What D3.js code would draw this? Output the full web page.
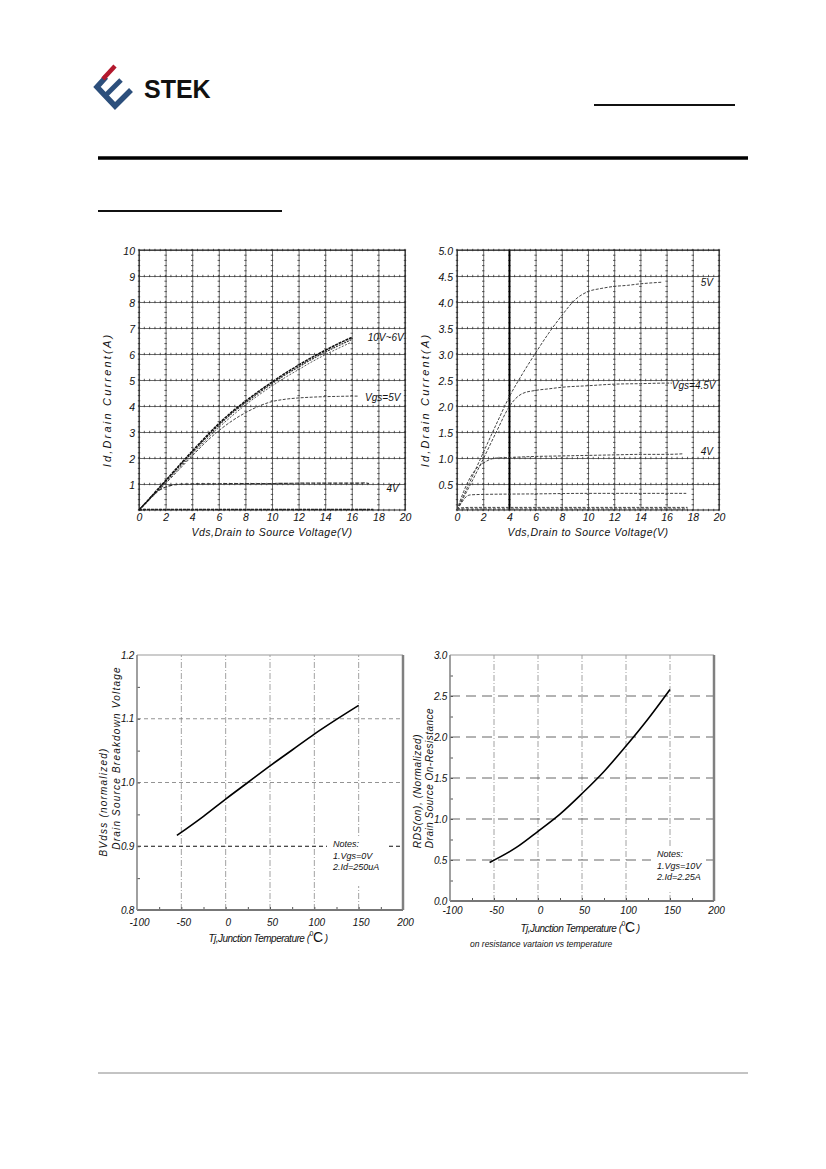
<!DOCTYPE html>
<html lang="en">
<head>
  <meta charset="UTF-8">
  <title>STEK - typical characteristics</title>
  <script src="https://cdn.jsdelivr.net/npm/d3@7"></script>
  <style>
    body { margin: 0; background: #fff; }
    svg { display: block; }
    text { font-family: Arial, "Liberation Sans", sans-serif; }
  </style>
</head>
<body>
<svg id="page" width="826" height="1169"></svg>
<script>
  // ---- output characteristics, Vgs as parameter  [Vds (V), Id (A)]
  var vgs10V = [[0,0],[0.5,0.27],[1,0.56],[2,1.13],[3,1.7],[4,2.26],[5,2.8],[6,3.32],[7,3.78],[8,4.18],[9,4.56],[10,4.92],[11,5.26],[12,5.57],[13,5.87],[14,6.14],[15,6.4],[16,6.64]];
  var vgs8V  = [[0,0],[1,0.54],[2,1.1],[3,1.66],[4,2.21],[5,2.75],[6,3.26],[7,3.72],[8,4.12],[9,4.5],[10,4.86],[11,5.2],[12,5.5],[13,5.8],[14,6.07],[15,6.32],[16,6.56]];
  var vgs6V  = [[0,0],[1,0.52],[2,1.06],[3,1.6],[4,2.14],[5,2.67],[6,3.17],[7,3.62],[8,4.04],[9,4.42],[10,4.77],[11,5.1],[12,5.4],[13,5.7],[14,5.97],[15,6.22],[16,6.46]];
  var vgs5V  = [[0,0],[1,0.5],[2,1.02],[3,1.55],[4,2.08],[5,2.6],[6,3.05],[7,3.43],[8,3.74],[9,3.99],[10,4.17],[11,4.26],[12,4.31],[13,4.34],[14,4.36],[15,4.37],[16,4.38],[16.5,4.38]];
  var vgs4V  = [[0,0],[0.5,0.28],[1,0.55],[1.5,0.76],[2,0.88],[2.5,0.96],[3,0.99],[4,1.0],[6,1.01],[8,1.02],[10,1.02],[12,1.03],[14,1.03],[16,1.03],[17,1.04],[17.3,1.02]];
  var vgs3V  = [[0,0],[0.5,0.02],[17.6,0.02]];

  // ---- second output chart
  var r5V   = [[0,0],[1,0.55],[2,1.1],[3,1.65],[4,2.18],[5,2.62],[6,3.02],[7,3.4],[8,3.74],[9,4.04],[10,4.2],[11,4.26],[12,4.3],[13,4.32],[14,4.35],[15,4.37],[15.6,4.38]];
  var r45V  = [[0,0],[1,0.48],[2,0.98],[3,1.5],[4,1.99],[4.5,2.15],[5,2.24],[6,2.3],[7,2.33],[8,2.36],[10,2.39],[12,2.42],[14,2.43],[16,2.44],[16.4,2.44]];
  var r4V   = [[0,0],[0.5,0.35],[1,0.62],[1.5,0.8],[2,0.9],[2.5,0.97],[3,1.0],[4,1.01],[6,1.03],[8,1.04],[10,1.05],[12,1.06],[14,1.07],[16,1.07],[17.2,1.08]];
  var r35V  = [[0,0],[0.3,0.12],[0.6,0.23],[1,0.29],[2,0.3],[6,0.31],[10,0.32],[14,0.32],[17.5,0.32]];
  var r3V   = [[0,0],[0.3,0.04],[1,0.05],[17.6,0.05]];
  var r25V  = [[0,0.02],[17.6,0.02]];

  // ---- temperature dependence
  var tjC     = [-55, -25, 0, 25, 50, 75, 100, 125, 150];
  var bvdssN  = [0.917, 0.947, 0.974, 1.0, 1.026, 1.051, 1.076, 1.099, 1.121];
  var rdsonN  = [0.47, 0.65, 0.85, 1.06, 1.31, 1.58, 1.89, 2.22, 2.58];

  var vdsTicks  = d3.range(0, 21, 2);
  var tempTicks = [-100, -50, 0, 50, 100, 150, 200];

  var svg = d3.select('#page');
  svg.append('rect').attr('width', 826).attr('height', 1169).attr('fill', '#fff');

  // ---------- header
  var logo = svg.append('g').attr('fill', 'none').attr('stroke-linejoin', 'miter');
  logo.append('path').attr('d', 'M106,77 L97,87 L115,106 L131,90').attr('stroke', '#2c4f7c').attr('stroke-width', 5.5);
  logo.append('path').attr('d', 'M105,96 L121,80').attr('stroke', '#2c4f7c').attr('stroke-width', 5);
  logo.append('path').attr('d', 'M103,79 L115,66').attr('stroke', '#b3182d').attr('stroke-width', 4.5);
  svg.append('text').attr('x', 144).attr('y', 98).attr('font-size', 25).attr('font-weight', 'bold')
    .attr('fill', '#111').text('STEK');
  svg.append('line').attr('x1', 594).attr('x2', 735).attr('y1', 105).attr('y2', 105).attr('stroke', '#111').attr('stroke-width', 2);
  svg.append('line').attr('x1', 98).attr('x2', 748).attr('y1', 158).attr('y2', 158).attr('stroke', '#000').attr('stroke-width', 3.5);
  svg.append('line').attr('x1', 98).attr('x2', 282).attr('y1', 211).attr('y2', 211).attr('stroke', '#111').attr('stroke-width', 2);
  svg.append('line').attr('x1', 98).attr('x2', 748).attr('y1', 1073).attr('y2', 1073).attr('stroke', '#888').attr('stroke-width', 1);

  function styleLabels(g, size) {
    g.select('.domain').remove();
    g.selectAll('.tick line').remove();
    g.attr('font-family', null).attr('font-size', null);
    g.selectAll('text').attr('font-style', 'italic').attr('font-size', size || 10).attr('fill', '#111');
  }

  // ---------- output characteristic charts
  function outputChart(box, yMax, yStep, yFmt, curves, notes, thickAt) {
    var x = d3.scaleLinear().domain([0, 20]).range([box.x, box.x + box.w]);
    var y = d3.scaleLinear().domain([0, yMax]).range([box.y + box.h, box.y]);
    var yTicks = d3.range(yStep, yMax + 1e-9, yStep);
    var g = svg.append('g');

    g.append('g').attr('transform', 'translate(0,' + (box.y + box.h) + ')')
      .call(d3.axisBottom(x).tickValues(vdsTicks).tickSize(-box.h).tickFormat(''))
      .call(function (a) { a.select('.domain').remove(); a.selectAll('line').attr('stroke', '#444').attr('stroke-width', 0.8); });
    g.append('g').attr('transform', 'translate(' + box.x + ',0)')
      .call(d3.axisLeft(y).tickValues(yTicks).tickSize(-box.w).tickFormat(''))
      .call(function (a) { a.select('.domain').remove(); a.selectAll('line').attr('stroke', '#444').attr('stroke-width', 0.8); });

    // small tick marks along every grid line
    var ticks = g.append('g').attr('stroke', '#333').attr('stroke-width', 0.8);
    var alongY = d3.range(0, yMax + 1e-9, yStep / 5);
    vdsTicks.forEach(function (v) {
      ticks.selectAll(null).data(alongY).enter().append('line')
        .attr('x1', x(v) - 1.2).attr('x2', x(v) + 1.2)
        .attr('y1', function (d) { return y(d); }).attr('y2', function (d) { return y(d); });
    });
    var alongX = d3.range(0, 20.01, 0.4);
    [0].concat(yTicks).forEach(function (v) {
      ticks.selectAll(null).data(alongX).enter().append('line')
        .attr('y1', y(v) - 1.2).attr('y2', y(v) + 1.2)
        .attr('x1', function (d) { return x(d); }).attr('x2', function (d) { return x(d); });
    });

    if (thickAt != null) {
      g.append('line').attr('x1', x(thickAt)).attr('x2', x(thickAt)).attr('y1', y(0)).attr('y2', y(yMax))
        .attr('stroke', '#000').attr('stroke-width', 1.8);
    }
    g.append('rect').attr('x', box.x).attr('y', box.y).attr('width', box.w).attr('height', box.h)
      .attr('fill', 'none').attr('stroke', '#222').attr('stroke-width', 1);

    var line = d3.line().x(function (d) { return x(d[0]); }).y(function (d) { return y(d[1]); })
      .curve(d3.curveMonotoneX);
    curves.forEach(function (c) {
      g.append('path').attr('d', line(c.data)).attr('fill', 'none')
        .attr('stroke', c.color).attr('stroke-width', c.width).attr('stroke-dasharray', c.dash || null);
    });

    notes.forEach(function (n) {
      g.append('text').attr('x', x(n.at[0])).attr('y', y(n.at[1])).attr('font-size', 10)
        .attr('font-style', 'italic').attr('fill', '#111').text(n.text);
    });

    g.append('g').attr('transform', 'translate(0,' + (box.y + box.h) + ')')
      .call(d3.axisBottom(x).tickValues(vdsTicks).tickSize(0).tickPadding(4))
      .call(function (a) { styleLabels(a, 10.5); });
    g.append('g').attr('transform', 'translate(' + box.x + ',0)')
      .call(d3.axisLeft(y).tickValues(yTicks).tickSize(0).tickPadding(4).tickFormat(yFmt))
      .call(function (a) { styleLabels(a, 10.5); a.selectAll('text').attr('dy', '0.4em'); });

    g.append('text').attr('x', box.x + box.w / 2).attr('y', box.y + box.h + 26).attr('text-anchor', 'middle')
      .attr('font-size', 10.5).attr('font-style', 'italic').attr('fill', '#111').attr('letter-spacing', 0.5)
      .text('Vds,Drain to Source Voltage(V)');
    g.append('text').attr('transform', 'translate(' + (box.x - 28) + ',' + (box.y + 150) + ') rotate(-90)')
      .attr('text-anchor', 'middle').attr('font-size', 11).attr('font-style', 'italic').attr('fill', '#111')
      .attr('letter-spacing', 2.2).text('Id,Drain Current(A)');
  }

  outputChart({ x: 139, y: 250, w: 266, h: 260 }, 10, 1, d3.format('d'), [
    { data: vgs3V,  color: '#222', width: 1.6, dash: '3,1' },
    { data: vgs4V,  color: '#333', width: 1.2, dash: '4,1.5' },
    { data: vgs5V,  color: '#444', width: 1.0, dash: '3,1.5' },
    { data: vgs6V,  color: '#555', width: 1.0, dash: '2,1.5' },
    { data: vgs8V,  color: '#333', width: 1.2, dash: '2,1' },
    { data: vgs10V, color: '#111', width: 1.6, dash: '3,0.8' }
  ], [
    { text: '10V~6V', at: [17.2, 6.5] },
    { text: 'Vgs=5V', at: [17.0, 4.2] },
    { text: '4V',     at: [18.6, 0.7] }
  ], null);

  outputChart({ x: 457, y: 250, w: 262, h: 260 }, 5, 0.5, d3.format('.1f'), [
    { data: r25V, color: '#333', width: 1.0, dash: '3,1.5' },
    { data: r3V,  color: '#444', width: 1.0, dash: '3,1.5' },
    { data: r35V, color: '#444', width: 1.0, dash: '3,1.5' },
    { data: r4V,  color: '#444', width: 1.0, dash: '3,1.5' },
    { data: r45V, color: '#444', width: 1.0, dash: '3,1.5' },
    { data: r5V,  color: '#444', width: 1.0, dash: '3,1.5' }
  ], [
    { text: '5V',       at: [18.6, 4.3] },
    { text: 'Vgs=4.5V', at: [16.4, 2.33] },
    { text: '4V',       at: [18.6, 1.05] }
  ], 4);

  // ---------- temperature charts
  function tempChart(box, yDomain, yStep, yMinor, values, hGrid, notes, mask, yLines, tickPad, titleGap) {
    var x = d3.scaleLinear().domain([-100, 200]).range([box.x, box.x + box.w]);
    var y = d3.scaleLinear().domain(yDomain).range([box.y + box.h, box.y]);
    var g = svg.append('g');
    var yTicks = d3.range(yDomain[0], yDomain[1] + 1e-9, yStep);

    // vertical dash-dot grid
    g.selectAll(null).data([-50, 0, 50, 100, 150]).enter().append('line')
      .attr('x1', function (d) { return x(d); }).attr('x2', function (d) { return x(d); })
      .attr('y1', y(yDomain[0])).attr('y2', y(yDomain[1]))
      .attr('stroke', '#8a8a8a').attr('stroke-width', 0.8).attr('stroke-dasharray', '6,2,1,2');
    // horizontal dashed grid
    g.selectAll(null).data(hGrid).enter().append('line')
      .attr('x1', x(-100)).attr('x2', x(200))
      .attr('y1', function (d) { return y(d.v); }).attr('y2', function (d) { return y(d.v); })
      .attr('stroke', function (d) { return d.color; }).attr('stroke-width', function (d) { return d.width; })
      .attr('stroke-dasharray', function (d) { return d.dash; });

    // keep the notes readable
    g.append('rect').attr('x', mask.x).attr('y', mask.y).attr('width', mask.w).attr('height', mask.h).attr('fill', '#fff');

    // minor ticks on the axes
    g.append('g').attr('transform', 'translate(0,' + (box.y + box.h) + ')')
      .call(d3.axisTop(x).tickValues(d3.range(-75, 200, 25)).tickSize(3).tickFormat(''))
      .call(function (a) { a.select('.domain').remove(); a.selectAll('line').attr('stroke', '#555'); });
    g.append('g').attr('transform', 'translate(' + box.x + ',0)')
      .call(d3.axisRight(y).tickValues(d3.range(yDomain[0] + yMinor, yDomain[1], yMinor)).tickSize(3).tickFormat(''))
      .call(function (a) { a.select('.domain').remove(); a.selectAll('line').attr('stroke', '#555'); });

    // frame
    g.append('line').attr('x1', box.x).attr('x2', box.x + box.w).attr('y1', box.y).attr('y2', box.y)
      .attr('stroke', '#999').attr('stroke-width', 1);
    g.append('line').attr('x1', box.x + box.w).attr('x2', box.x + box.w).attr('y1', box.y).attr('y2', box.y + box.h)
      .attr('stroke', '#808080').attr('stroke-width', 2.5);
    g.append('line').attr('x1', box.x).attr('x2', box.x + box.w).attr('y1', box.y + box.h).attr('y2', box.y + box.h)
      .attr('stroke', '#777').attr('stroke-width', 2);
    g.append('line').attr('x1', box.x).attr('x2', box.x).attr('y1', box.y).attr('y2', box.y + box.h)
      .attr('stroke', '#888').attr('stroke-width', 1.6);

    var line = d3.line().x(function (d, i) { return x(tjC[i]); }).y(function (d) { return y(d); })
      .curve(d3.curveMonotoneX);
    g.append('path').attr('d', line(values)).attr('fill', 'none').attr('stroke', '#000').attr('stroke-width', 1.6);

    var nt = g.append('text').attr('font-size', 9).attr('font-style', 'italic').attr('fill', '#111');
    notes.forEach(function (t, i) {
      nt.append('tspan').attr('x', mask.x + 6).attr('y', mask.y + 11 + i * 11.5).text(t);
    });

    g.append('g').attr('transform', 'translate(0,' + (box.y + box.h) + ')')
      .call(d3.axisBottom(x).tickValues(tempTicks).tickSize(0).tickPadding(tickPad)
        .tickFormat(function (d) { return String(d); }))
      .call(function (a) { styleLabels(a, 10); a.selectAll('text').attr('dx', '0.2em'); });
    g.append('g').attr('transform', 'translate(' + box.x + ',0)')
      .call(d3.axisLeft(y).tickValues(yTicks).tickSize(0).tickPadding(3).tickFormat(d3.format('.1f')))
      .call(function (a) { styleLabels(a, 10); a.selectAll('text').attr('letter-spacing', -0.3); });

    var xl = g.append('text').attr('x', box.x + box.w / 2 - 2).attr('y', box.y + box.h + titleGap)
      .attr('text-anchor', 'middle').attr('font-size', 10).attr('font-style', 'italic').attr('fill', '#111')
      .attr('letter-spacing', -0.5);
    xl.append('tspan').text('Tj,Junction Temperature (');
    xl.append('tspan').attr('font-size', 7).attr('dy', -6).attr('font-style', 'normal').text('0');
    xl.append('tspan').attr('font-size', 14).attr('dy', 6).attr('font-style', 'normal').text('C');
    xl.append('tspan').text(' )');

    yLines.forEach(function (l) {
      g.append('text').attr('transform', 'translate(' + l.x + ',' + l.y + ') rotate(-90)')
        .attr('text-anchor', 'middle').attr('font-size', 10).attr('font-style', 'italic')
        .attr('fill', '#111').attr('letter-spacing', l.ls).text(l.text);
    });
    return g;
  }

  tempChart({ x: 137, y: 655, w: 266, h: 255 }, [0.8, 1.2], 0.1, 0.05, bvdssN, [
    { v: 0.9, color: '#111', width: 1.1, dash: '4,3' },
    { v: 1.0, color: '#777', width: 0.8, dash: '4,3' },
    { v: 1.1, color: '#777', width: 0.8, dash: '4,3' }
  ], ['Notes:', '1.Vgs=0V', '2.Id=250uA'], { x: 327, y: 836, w: 62, h: 50 }, [
    { text: 'BVdss (normalized)', x: 107, y: 802, ls: 1.2 },
    { text: 'Drain Source Breakdown Voltage', x: 120, y: 758, ls: 1.2 }
  ], 9, 32);

  tempChart({ x: 450, y: 655, w: 264, h: 246 }, [0, 3], 0.5, 0.25, rdsonN, [
    { v: 0.5, color: '#555', width: 0.9, dash: '10,6' },
    { v: 1.0, color: '#555', width: 0.9, dash: '10,6' },
    { v: 1.5, color: '#555', width: 0.9, dash: '10,6' },
    { v: 2.0, color: '#555', width: 0.9, dash: '10,6' },
    { v: 2.5, color: '#555', width: 0.9, dash: '10,6' }
  ], ['Notes:', '1.Vgs=10V', '2.Id=2.25A'], { x: 651, y: 846, w: 54, h: 44 }, [
    { text: 'RDS(on), (Normalized)', x: 421, y: 791, ls: 0.6 },
    { text: 'Drain Source On-Resistance', x: 433, y: 778, ls: 0.5 }
  ], 6, 31);

  svg.append('text').attr('x', 470).attr('y', 947).attr('font-size', 8.5).attr('font-style', 'italic')
    .attr('fill', '#111').text('on resistance vartaion vs temperature');
</script>
</body>
</html>
